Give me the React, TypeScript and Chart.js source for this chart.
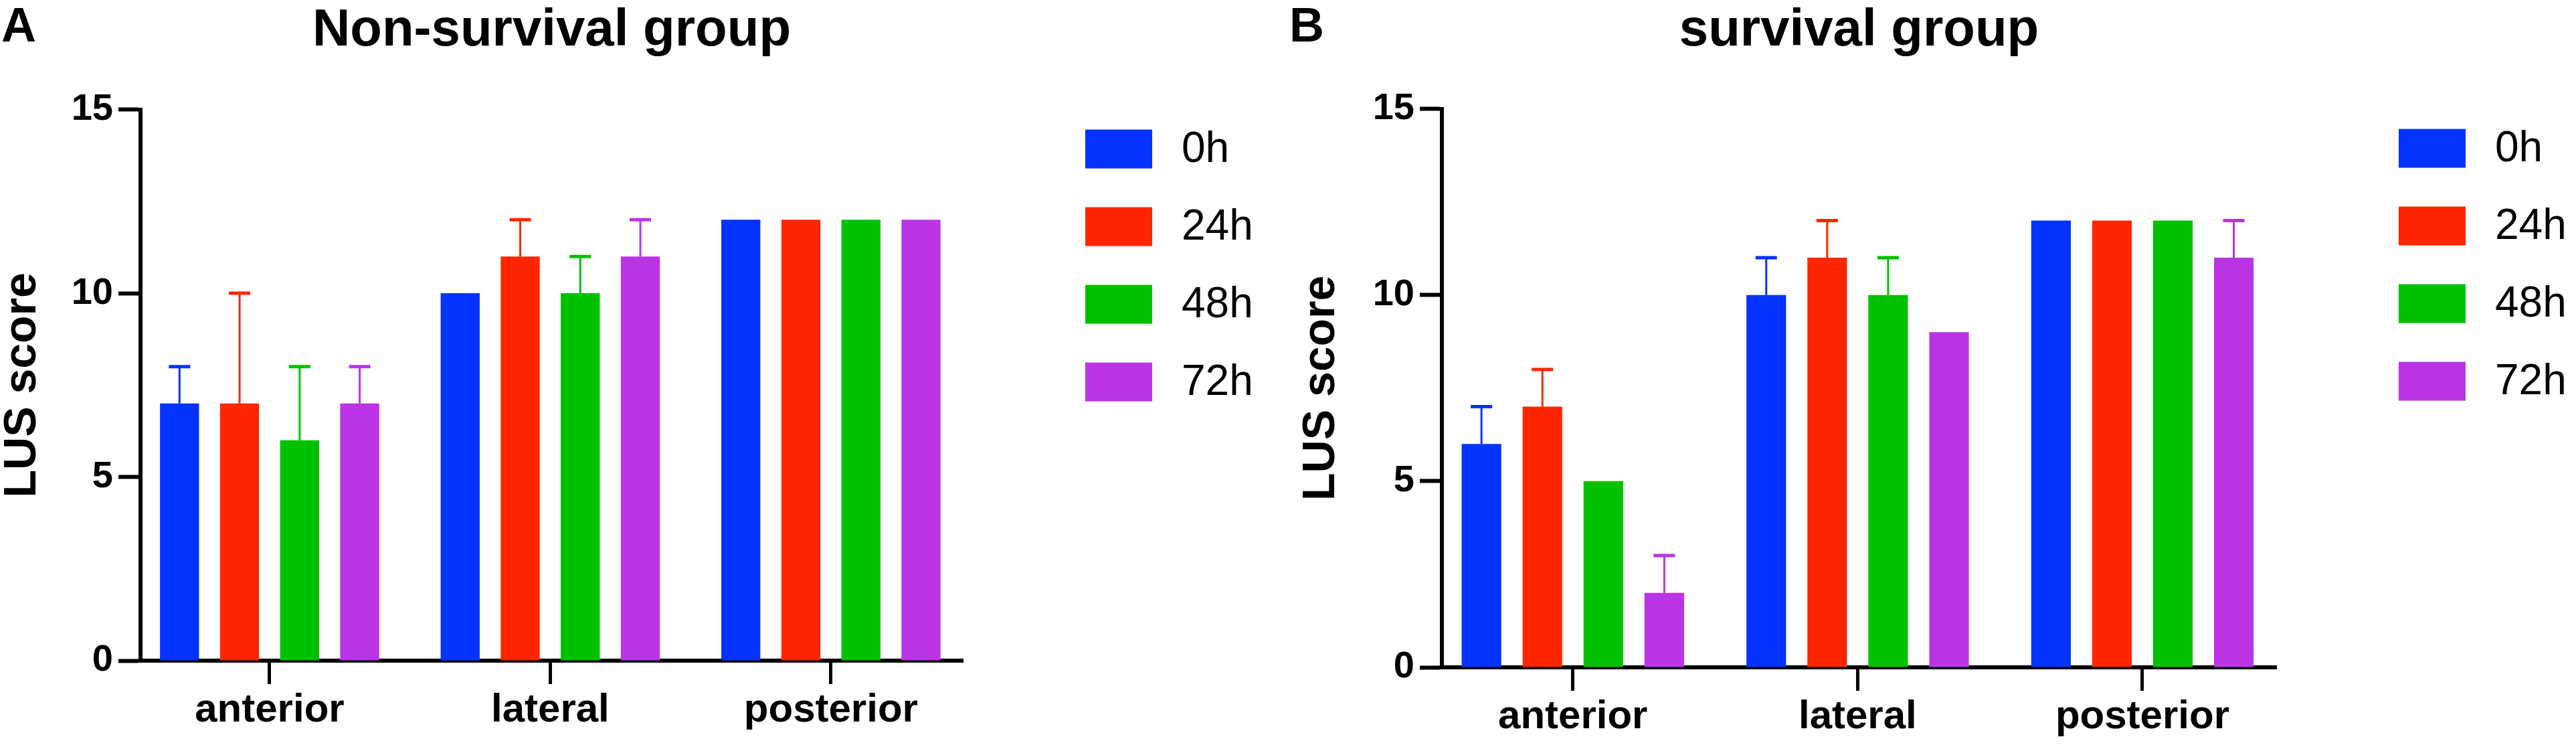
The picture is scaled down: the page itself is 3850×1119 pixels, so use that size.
import { useEffect, useRef } from "react"
import { Chart, registerables } from "chart.js"

Chart.register(...registerables)

const FONT = "'Liberation Sans', Arial, Helvetica, sans-serif"

// categories, series and tick values
const regions = ["anterior", "lateral", "posterior"]
const timePoints = ["0h", "24h", "48h", "72h"]
const yTicks = [0, 5, 10, 15]

// Non-survival group (mean + upper error)
const nonSurvival0h = [7, 10, 12]
const nonSurvival24h = [7, 11, 12]
const nonSurvival48h = [6, 10, 12]
const nonSurvival72h = [7, 11, 12]
const nonSurvival0hErr = [1, 0, 0]
const nonSurvival24hErr = [3, 1, 0]
const nonSurvival48hErr = [2, 1, 0]
const nonSurvival72hErr = [1, 1, 0]

// survival group
const survival0h = [6, 10, 12]
const survival24h = [7, 11, 12]
const survival48h = [5, 10, 12]
const survival72h = [2, 9, 11]
const survival0hErr = [1, 1, 0]
const survival24hErr = [1, 1, 0]
const survival48hErr = [0, 1, 0]
const survival72hErr = [1, 0, 1]

const barColors = ["#0433FF", "#FF2600", "#00C100", "#BA34E6"]

// upward-only error bars, like the GraphPad original
const errorBars = {
  id: "errorBars",
  afterDatasetsDraw(chart: any) {
    const { ctx } = chart
    const y = chart.scales.y
    chart.data.datasets.forEach((ds: any, i: number) => {
      const meta = chart.getDatasetMeta(i)
      meta.data.forEach((bar: any, j: number) => {
        const e = ds.errors[j]
        if (!e) return
        const top = y.getPixelForValue(ds.data[j] + e)
        ctx.save()
        ctx.strokeStyle = ds.backgroundColor
        ctx.lineWidth = 3
        ctx.beginPath()
        ctx.moveTo(bar.x, bar.y)
        ctx.lineTo(bar.x, top)
        ctx.stroke()
        ctx.lineWidth = 5
        ctx.beginPath()
        ctx.moveTo(bar.x - 16, top)
        ctx.lineTo(bar.x + 16, top)
        ctx.stroke()
        ctx.restore()
      })
    })
  },
}

// legend with large boxes to the right of the plot
const boxLegend = {
  id: "boxLegend",
  afterDraw(chart: any) {
    const { ctx, chartArea } = chart
    const x = chartArea.right + 183
    ctx.save()
    ctx.font = `64px ${FONT}`
    ctx.textBaseline = "middle"
    chart.data.datasets.forEach((ds: any, i: number) => {
      const top = chartArea.top + 30 + i * 116
      ctx.fillStyle = ds.backgroundColor
      ctx.fillRect(x, top, 100, 58)
      ctx.fillStyle = "#000"
      ctx.fillText(ds.label, x + 144, top + 31)
    })
    ctx.restore()
  },
}

const panelLetter = {
  id: "panelLetter",
  afterDraw(chart: any, _args: any, opts: any) {
    const { ctx } = chart
    ctx.save()
    ctx.font = `bold 72px ${FONT}`
    ctx.fillStyle = "#000"
    ctx.textBaseline = "alphabetic"
    ctx.fillText(opts.text, 2, 62)
    ctx.restore()
  },
}

interface PanelProps {
  letter: string
  title: string
  values: number[][]
  errors: number[][]
  yAxisWidth: number
  xAxisHeight: number
  rightPad: number
  yTitlePad: number
  titleGap: number
}

function Panel({ letter, title, values, errors, yAxisWidth, xAxisHeight, rightPad, yTitlePad, titleGap }: PanelProps) {
  const canvasRef = useRef<HTMLCanvasElement>(null)

  useEffect(() => {
    if (!canvasRef.current) return
    const chart = new Chart(canvasRef.current, {
      type: "bar",
      data: {
        labels: regions,
        datasets: timePoints.map((t, i) => ({
          label: t,
          data: values[i],
          errors: errors[i],
          backgroundColor: barColors[i],
          borderWidth: 0,
          categoryPercentage: 0.856,
          barPercentage: 0.65,
        })) as any,
      },
      options: {
        animation: false,
        responsive: true,
        maintainAspectRatio: false,
        layout: { padding: { left: 0, right: rightPad, top: 0, bottom: 0 } },
        plugins: {
          legend: { display: false },
          tooltip: { enabled: false },
          title: {
            display: true,
            text: title,
            fullSize: false,
            color: "#000",
            font: { family: FONT, size: 78, weight: "bold" },
            padding: { top: 0, bottom: titleGap },
          },
          panelLetter: { text: letter },
        } as any,
        scales: {
          x: {
            offset: true,
            grid: {
              display: true,
              offset: false,
              drawOnChartArea: false,
              drawTicks: true,
              tickLength: 35,
              tickWidth: 5,
              tickColor: "#000",
            },
            border: { display: true, color: "#000", width: 6 },
            ticks: {
              color: "#000",
              padding: 3,
              font: { family: FONT, size: 60, weight: "bold" },
            },
            // Prism leaves a bit less room at the ends than a plain half category
            afterBuildTicks(scale: any) {
              scale._startValue = -0.46
              scale._valueRange = 2.93
            },
            afterFit(scale: any) {
              scale.height = xAxisHeight
            },
          },
          y: {
            min: yTicks[0],
            max: yTicks[yTicks.length - 1],
            grid: {
              display: true,
              drawOnChartArea: false,
              drawTicks: true,
              tickLength: 33,
              tickWidth: 6,
              tickColor: "#000",
            },
            border: { display: true, color: "#000", width: 6 },
            ticks: {
              stepSize: yTicks[1] - yTicks[0],
              color: "#000",
              padding: 8,
              font: { family: FONT, size: 56, weight: "bold" },
            },
            title: {
              display: true,
              text: "LUS score",
              color: "#000",
              font: { family: FONT, size: 68, weight: "bold", lineHeight: 1 },
              padding: { top: yTitlePad, bottom: 0 },
            },
            afterFit(scale: any) {
              scale.width = yAxisWidth
            },
          },
        },
      },
      plugins: [errorBars, boxLegend, panelLetter],
    })
    return () => chart.destroy()
  }, [])

  return (
    <div style={{ position: "relative", width: 1925, height: 1119 }}>
      <canvas ref={canvasRef} />
    </div>
  )
}

export default function App() {
  return (
    <div
      style={{
        position: "absolute",
        left: 0,
        top: 0,
        width: 3850,
        height: 1119,
        display: "flex",
        background: "#fff",
        overflow: "hidden",
      }}
    >
      <Panel
        letter="A"
        title="Non-survival group"
        values={[nonSurvival0h, nonSurvival24h, nonSurvival48h, nonSurvival72h]}
        errors={[nonSurvival0hErr, nonSurvival24hErr, nonSurvival48hErr, nonSurvival72hErr]}
        yAxisWidth={210}
        xAxisHeight={132}
        rightPad={486}
        yTitlePad={0}
        titleGap={70}
      />
      <Panel
        letter="B"
        title="survival group"
        values={[survival0h, survival24h, survival48h, survival72h]}
        errors={[survival0hErr, survival24hErr, survival48hErr, survival72hErr]}
        yAxisWidth={230}
        xAxisHeight={122}
        rightPad={448}
        yTitlePad={16}
        titleGap={69}
      />
    </div>
  )
}
